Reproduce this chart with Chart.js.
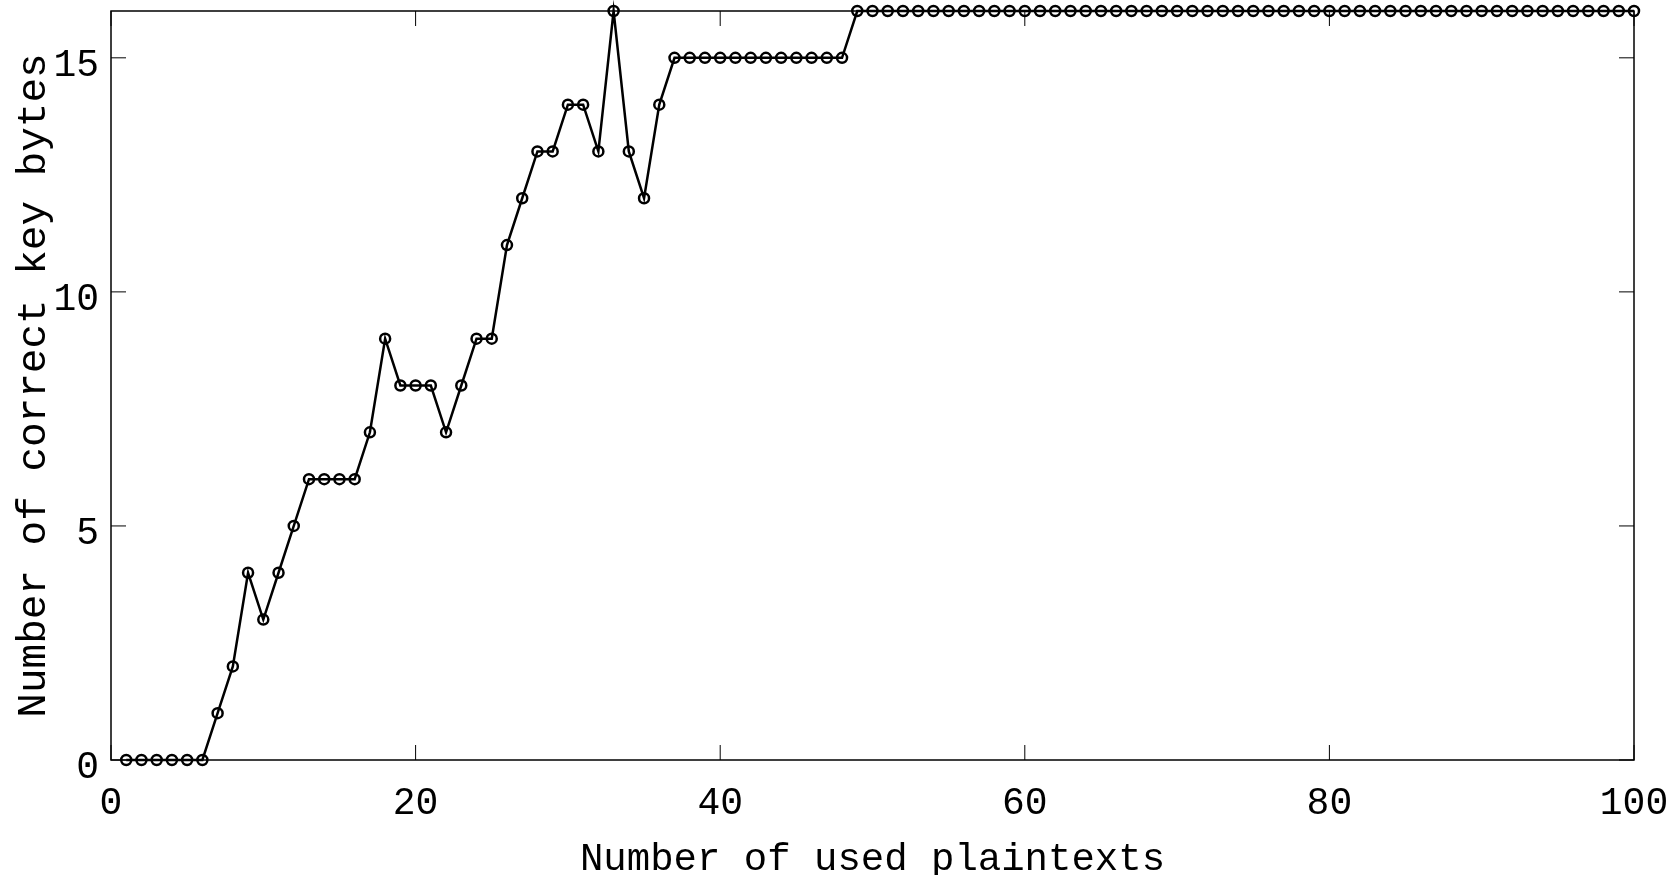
<!DOCTYPE html>
<html lang="en">
<head>
    <meta charset="UTF-8">
    <title>Correct key bytes vs used plaintexts</title>
    <script src="https://cdn.jsdelivr.net/npm/chart.js"></script>
    <style>
        html, body {
            margin: 0;
            padding: 0;
            background-color: #ffffff;
        }
        .chart-container {
            width: 1676px;
            height: 875px;
        }
    </style>
</head>
<body>
    <div class="chart-container">
        <canvas id="keyChart" width="1676" height="875"></canvas>
    </div>
    <script>
        // number of used plaintexts (x) and correct key bytes recovered (y)
        const usedPlaintexts = [
            1, 2, 3, 4, 5, 6, 7, 8, 9, 10,
            11, 12, 13, 14, 15, 16, 17, 18, 19, 20,
            21, 22, 23, 24, 25, 26, 27, 28, 29, 30,
            31, 32, 33, 34, 35, 36, 37, 38, 39, 40,
            41, 42, 43, 44, 45, 46, 47, 48, 49, 50,
            51, 52, 53, 54, 55, 56, 57, 58, 59, 60,
            61, 62, 63, 64, 65, 66, 67, 68, 69, 70,
            71, 72, 73, 74, 75, 76, 77, 78, 79, 80,
            81, 82, 83, 84, 85, 86, 87, 88, 89, 90,
            91, 92, 93, 94, 95, 96, 97, 98, 99, 100
        ];
        const correctKeyBytes = [
            0, 0, 0, 0, 0, 0, 1, 2, 4, 3,
            4, 5, 6, 6, 6, 6, 7, 9, 8, 8,
            8, 7, 8, 9, 9, 11, 12, 13, 13, 14,
            14, 13, 16, 13, 12, 14, 15, 15, 15, 15,
            15, 15, 15, 15, 15, 15, 15, 15, 16, 16,
            16, 16, 16, 16, 16, 16, 16, 16, 16, 16,
            16, 16, 16, 16, 16, 16, 16, 16, 16, 16,
            16, 16, 16, 16, 16, 16, 16, 16, 16, 16,
            16, 16, 16, 16, 16, 16, 16, 16, 16, 16,
            16, 16, 16, 16, 16, 16, 16, 16, 16, 16
        ];
        const xTicks = [0, 20, 40, 60, 80, 100];
        const yTicks = [0, 5, 10, 15];

        const FONT = "'Liberation Mono', 'DejaVu Sans Mono', monospace";

        // frame around the plot with short inward ticks on all four sides
        const framePlugin = {
            id: 'frame',
            afterDatasetsDraw(chart) {
                const { ctx, chartArea: a, scales } = chart;
                const len = 15;
                ctx.save();
                ctx.strokeStyle = '#000';
                ctx.lineWidth = 1.5;
                ctx.strokeRect(a.left, a.top, a.right - a.left, a.bottom - a.top);
                ctx.lineWidth = 1;
                ctx.beginPath();
                xTicks.forEach(v => {
                    const px = scales.x.getPixelForValue(v);
                    ctx.moveTo(px, a.bottom); ctx.lineTo(px, a.bottom - len);
                    ctx.moveTo(px, a.top); ctx.lineTo(px, a.top + len);
                });
                yTicks.forEach(v => {
                    const py = scales.y.getPixelForValue(v);
                    ctx.moveTo(a.left, py); ctx.lineTo(a.left + len, py);
                    ctx.moveTo(a.right, py); ctx.lineTo(a.right - len, py);
                });
                ctx.stroke();
                ctx.restore();
            }
        };

        const ctx = document.getElementById('keyChart').getContext('2d');
        new Chart(ctx, {
            type: 'line',
            data: {
                datasets: [{
                    data: usedPlaintexts.map((x, i) => ({ x: x, y: correctKeyBytes[i] })),
                    borderColor: '#000',
                    borderWidth: 2.5,
                    pointRadius: 5,
                    pointBorderWidth: 2.5,
                    pointBorderColor: '#000',
                    pointBackgroundColor: 'rgba(0,0,0,0)',
                    tension: 0,
                    clip: false
                }]
            },
            options: {
                responsive: false,
                animation: false,
                layout: { padding: { top: 11, right: 42, left: 0, bottom: 0 } },
                plugins: {
                    legend: { display: false },
                    tooltip: { enabled: false }
                },
                scales: {
                    x: {
                        type: 'linear',
                        min: 0,
                        max: 100,
                        afterBuildTicks: s => { s.ticks = xTicks.map(v => ({ value: v })); },
                        afterFit: s => { s.height = 115; s.paddingLeft = 0; s.paddingRight = 0; },
                        grid: { display: false, drawTicks: false },
                        border: { display: false },
                        ticks: {
                            padding: 21,
                            maxRotation: 0,
                            color: '#000',
                            font: { family: FONT, size: 38 }
                        },
                        title: {
                            display: true,
                            text: 'Number of used plaintexts',
                            color: '#000',
                            padding: { top: 0, bottom: -4 },
                            font: { family: FONT, size: 39, lineHeight: 1.0 }
                        }
                    },
                    y: {
                        type: 'linear',
                        min: 0,
                        max: 16,
                        afterBuildTicks: s => { s.ticks = yTicks.map(v => ({ value: v })); },
                        afterFit: s => { s.width = 111; s.paddingTop = 0; s.paddingBottom = 0; },
                        grid: { display: false, drawTicks: false },
                        border: { display: false },
                        ticks: {
                            padding: 12,
                            labelOffset: 8,
                            color: '#000',
                            font: { family: FONT, size: 38 }
                        },
                        title: {
                            display: true,
                            text: 'Number of correct key bytes',
                            color: '#000',
                            padding: { top: 14, bottom: 0 },
                            font: { family: FONT, size: 41, lineHeight: 1.0 }
                        }
                    }
                }
            },
            plugins: [framePlugin]
        });
    </script>
</body>
</html>
